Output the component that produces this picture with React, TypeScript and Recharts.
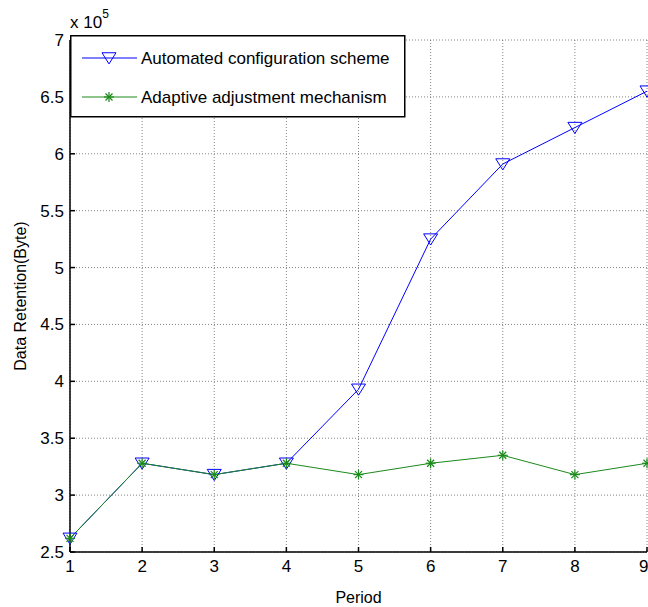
import React from 'react';
import {
  LineChart,
  Line,
  XAxis,
  YAxis,
  CartesianGrid,
  Label,
} from 'recharts';

// Period numbers on the x axis
const periods = [1, 2, 3, 4, 5, 6, 7, 8, 9];
// Data retention in bytes
const automatedScheme = [262000, 328000, 318000, 328000, 393000, 525000, 591000, 623000, 655000];
const adaptiveMechanism = [262000, 328000, 318000, 328000, 318000, 328000, 335000, 318000, 328000];
const yTicks = [250000, 300000, 350000, 400000, 450000, 500000, 550000, 600000, 650000, 700000];

const BLUE = '#0000ff';
const GREEN = '#1b8a1b';
const FONT = '"Liberation Sans", Arial, sans-serif';

const data = periods.map((p, i) => ({
  period: p,
  automated: automatedScheme[i],
  adaptive: adaptiveMechanism[i],
}));

const Triangle = ({ cx, cy, size = 7 }: { cx: number; cy: number; size?: number }) => (
  <polygon
    points={`${cx - size},${cy - size * 0.75} ${cx + size},${cy - size * 0.75} ${cx},${cy + size * 0.85}`}
    fill="none"
    stroke={BLUE}
    strokeWidth={1}
  />
);

const Asterisk = ({ cx, cy, size = 5 }: { cx: number; cy: number; size?: number }) => (
  <g stroke={GREEN} strokeWidth={1.2}>
    <line x1={cx - size} y1={cy} x2={cx + size} y2={cy} />
    <line x1={cx} y1={cy - size} x2={cx} y2={cy + size} />
    <line x1={cx - size * 0.7} y1={cy - size * 0.7} x2={cx + size * 0.7} y2={cy + size * 0.7} />
    <line x1={cx - size * 0.7} y1={cy + size * 0.7} x2={cx + size * 0.7} y2={cy - size * 0.7} />
  </g>
);

const renderTriangle = (props: any) => {
  const { cx, cy, index } = props;
  return <Triangle key={`t-${index}`} cx={cx} cy={cy} />;
};

const renderAsterisk = (props: any) => {
  const { cx, cy, index } = props;
  return <Asterisk key={`a-${index}`} cx={cx} cy={cy} />;
};

const LegendBox = () => (
  <svg width={336} height={83} style={{ display: 'block' }}>
    <rect x={0.75} y={0.75} width={334} height={81} fill="#fff" stroke="#000" strokeWidth={1.5} />
    <line x1={12} y1={23} x2={67} y2={23} stroke={BLUE} />
    <Triangle cx={39} cy={23} />
    <text x={71} y={29} fontSize={17} fontFamily={FONT} fill="#000">
      Automated configuration scheme
    </text>
    <line x1={12} y1={62} x2={67} y2={62} stroke={GREEN} />
    <Asterisk cx={39} cy={62} />
    <text x={71} y={68} fontSize={17} fontFamily={FONT} fill="#000">
      Adaptive adjustment mechanism
    </text>
  </svg>
);

const App = () => {
  const tickStyle = { fontSize: 17, fontFamily: FONT, fill: '#000' };
  return (
    <div style={{ position: 'absolute', left: 0, top: 0, width: 648, height: 607, background: '#fff' }}>
      <LineChart
        width={648}
        height={607}
        data={data}
        margin={{ top: 40, right: 1, bottom: 0, left: 0 }}
      >
        <CartesianGrid stroke="#666" strokeDasharray="1 2" strokeWidth={0.8} />
        <XAxis
          dataKey="period"
          type="number"
          domain={[1, 9]}
          ticks={periods}
          height={55}
          stroke="#000"
          strokeWidth={1.5}
          tickSize={-5}
          tickMargin={13}
          tick={tickStyle}
        >
          <Label value="Period" position="insideBottom" offset={4} style={{ fontSize: 16, fontFamily: FONT, fill: '#000' }} />
        </XAxis>
        <XAxis
          xAxisId="top"
          orientation="top"
          dataKey="period"
          type="number"
          domain={[1, 9]}
          ticks={periods}
          height={0}
          stroke="#000"
          strokeWidth={1.5}
          tickSize={-5}
          tick={false}
        />
        <YAxis
          type="number"
          domain={[250000, 700000]}
          ticks={yTicks}
          width={70}
          stroke="#000"
          strokeWidth={1.5}
          tickSize={-5}
          tickMargin={11}
          tick={tickStyle}
          tickFormatter={(v: number) => `${v / 100000}`}
        >
          <Label
            value="Data Retention(Byte)"
            angle={-90}
            position="insideLeft"
            offset={20}
            style={{ fontSize: 16, fontFamily: FONT, fill: '#000', textAnchor: 'middle' }}
          />
        </YAxis>
        <Line
          dataKey="automated"
          stroke={BLUE}
          strokeWidth={1}
          dot={renderTriangle}
          activeDot={false}
          isAnimationActive={false}
        />
        <Line
          dataKey="adaptive"
          stroke={GREEN}
          strokeWidth={1}
          dot={renderAsterisk}
          activeDot={false}
          isAnimationActive={false}
        />
      </LineChart>
      <div style={{ position: 'absolute', left: 70, top: 35 }}>
        <LegendBox />
      </div>
      <div
        style={{
          position: 'absolute',
          left: 70,
          top: 10,
          fontSize: 17,
          fontFamily: FONT,
          color: '#000',
          whiteSpace: 'nowrap',
        }}
      >
        x 10<sup style={{ fontSize: 12, position: 'relative', top: -3 }}>5</sup>
      </div>
    </div>
  );
};

export default App;
